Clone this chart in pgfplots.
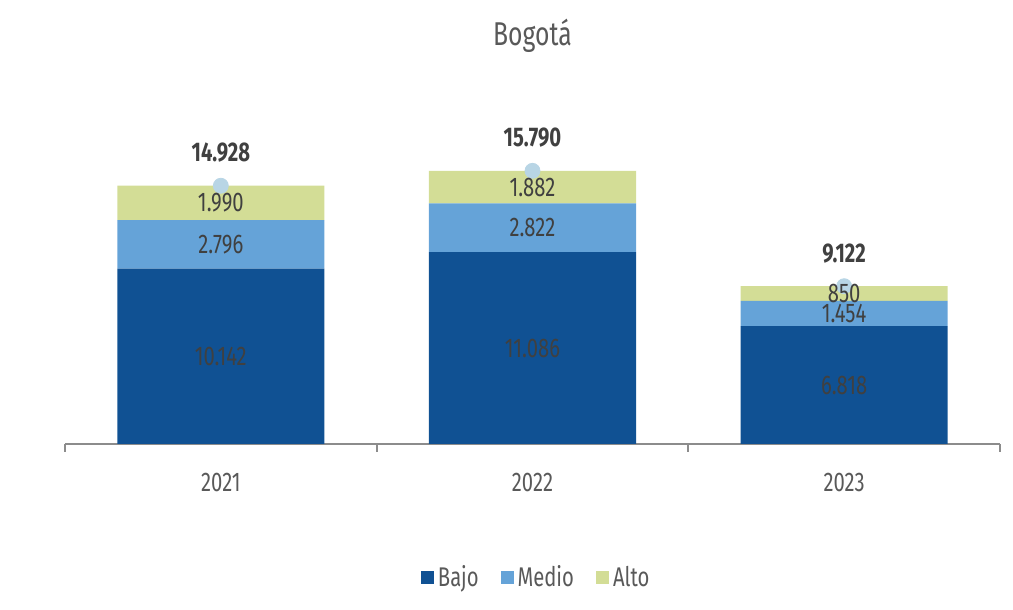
\documentclass[border=0pt]{standalone}
\usepackage{fontspec}
\setmainfont{Fira Sans}[FakeStretch=0.75]
\usepackage{pgfplots}
\pgfplotsset{compat=1.18}
\definecolor{bajo}{HTML}{105193}
\definecolor{medio}{HTML}{65A3D8}
\definecolor{alto}{HTML}{D3DD96}
\definecolor{markc}{HTML}{B8D5E5}
\definecolor{txt}{HTML}{404040}
\definecolor{txtg}{HTML}{595959}
\definecolor{axisg}{HTML}{8C8C8C}
\newcommand{\lblfont}{\fontsize{13.5}{16}\selectfont}
\begin{document}
\begin{tikzpicture}
\useasboundingbox (-32.5pt,-83pt) rectangle (474pt,222pt);
\begin{axis}[
  at={(0pt,0pt)}, anchor=south west,
  scale only axis, width=467.5pt, height=173pt,
  xmin=-0.5, xmax=2.5, ymin=0, ymax=20000,
  ybar stacked, bar width=103.5pt,
  axis x line*=bottom, axis y line=none,
  xtick={0,1,2}, xticklabels={2021,2022,2023},
  major tick length=0pt,
  minor xtick={-0.5,0.5,1.5,2.5}, minor tick length=4pt, tick align=outside,
  x axis line style={axisg, line width=1pt},
  minor tick style={axisg, line width=1pt},
  xticklabel style={font=\lblfont, text=txtg, anchor=center, yshift=-19pt},
  title={Bogotá},
  title style={at={(0.5,1.144)}, anchor=center, yshift=0pt, font=\fontsize{16.5}{19}\selectfont, text=txtg},
  legend style={at={(0.505,-0.387)}, anchor=center, draw=none, fill=none,
    legend columns=3, font=\lblfont, text=txtg,
    /tikz/every even column/.append style={column sep=9pt}},
  legend image code/.code={\path[#1,draw=none] (0pt,-3.25pt) rectangle (6.5pt,3.25pt);},
]
\addplot[fill=bajo, draw=none] coordinates {(0,10142) (1,11086) (2,6818)};
\addplot[fill=medio, draw=none] coordinates {(0,2796) (1,2822) (2,1454)};
\addplot[fill=alto, draw=none] coordinates {(0,1990) (1,1882) (2,850)};
\legend{Bajo,Medio,Alto}
\end{axis}
\begin{axis}[
  at={(0pt,0pt)}, anchor=south west,
  scale only axis, width=467.5pt, height=173pt,
  xmin=-0.5, xmax=2.5, ymin=0, ymax=20000,
  hide axis, clip=false,
]
% totals
\addplot[color=markc, only marks, mark=*, mark size=3.75pt, mark options={fill=markc, draw=markc},
  nodes near coords, point meta=explicit symbolic,
  every node near coord/.append style={anchor=center, yshift=16.5pt, font=\lblfont\bfseries, text=txt}]
  table[meta=t] {
x y t
0 14928 14.928
1 15790 15.790
2 9122 9.122
};
% segment labels at segment centres
\addplot[draw=none, mark=none, nodes near coords, point meta=explicit symbolic,
  every node near coord/.append style={anchor=center, font=\lblfont, text=txt}]
  table[meta=t] {
x y t
0 5071 10.142
1 5543 11.086
2 3409 6.818
0 11540 2.796
1 12497 2.822
2 7545 1.454
0 13933 1.990
1 14849 1.882
2 8697 850
};
\end{axis}
\end{tikzpicture}
\end{document}
